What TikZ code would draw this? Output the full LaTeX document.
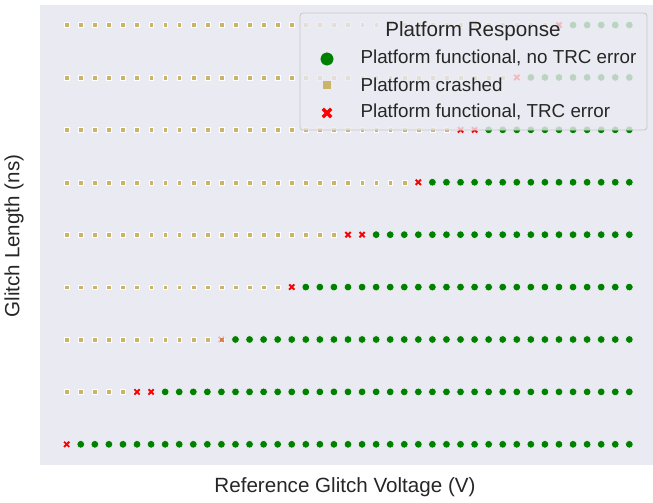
\documentclass[tikz,border=0pt]{standalone}
\usepackage{fontspec}
\setmainfont{Liberation Sans}

\definecolor{plotbg}{HTML}{EAEAF2}
\definecolor{okgreen}{HTML}{008000}
\definecolor{crashtan}{HTML}{C9B468}
\definecolor{trcred}{HTML}{FF0000}

\tikzset{
  okdot/.style={fill=okgreen, draw=white, line width=0.4pt},
  crashsq/.style={fill=crashtan, draw=white, line width=0.3pt},
  lbl/.style={font=\fontsize{18.8}{21}\selectfont, text=black!85},
  biglbl/.style={font=\fontsize{20.6}{23}\selectfont, text=black!85},
  trcmark/.pic={\draw[trcred, line width=1.9pt] (-2.6pt,-2.6pt) -- (2.6pt,2.6pt) (-2.6pt,2.6pt) -- (2.6pt,-2.6pt);},
  trcmarkbig/.pic={\draw[trcred, line width=3.2pt] (-4.2pt,-4.2pt) -- (4.2pt,4.2pt) (-4.2pt,4.2pt) -- (4.2pt,-4.2pt);}
}

\begin{document}
\begin{tikzpicture}[x=1pt, y=-1pt]
\useasboundingbox (0,0) rectangle (653,503);

% Plotfläche
\fill[plotbg] (40,5) rectangle (653,465);

% Messpunkte: Zeile / erstes X / letztes X
\foreach \r/\a/\b in {0/0/0, 1/5/6, 2/12/11, 3/16/16, 4/20/21, 5/25/25, 6/28/29, 7/32/32, 8/35/35}{
  \foreach \c in {0,...,40}{
    \pgfmathsetmacro\px{66.7+14.065*\c}
    \pgfmathsetmacro\py{444.3-52.41*\r}
    \ifnum\c<\a
      \filldraw[crashsq] (\px-2.4,\py-2.4) rectangle (\px+2.4,\py+2.4);
    \else\ifnum\c>\b
      \filldraw[okdot] (\px,\py) circle (3.8pt);
    \else
      \pic at (\px,\py) {trcmark};
    \fi\fi
  }
}
% schwaches X unter dem Quadrat
\pic[opacity=0.3] at (221.4,339.5) {trcmark};

% Legende
\draw[gray!45, fill=plotbg, fill opacity=0.8, rounded corners=3pt, line width=0.8pt] (300,13) rectangle (647,130);
\node[biglbl] (legtitle) at (473,31) {Platform Response};
\filldraw[okgreen] (327,59) circle (6.2pt);
\node[lbl, anchor=west] (legok) at (357,58) {Platform functional, no TRC error};
\fill[crashtan] (323,81) rectangle (331,89);
\node[lbl, anchor=west] (legcrash) at (357,85) {Platform crashed};
\pic at (327,113) {trcmarkbig};
\node[lbl, anchor=west] (legtrc) at (357,112) {Platform functional, TRC error};

% Achsenbeschriftungen
\node[biglbl, rotate=90] (ylabel) at (14,236) {Glitch Length (ns)};
\node[biglbl] (xlabel) at (345,487) {Reference Glitch Voltage (V)};
\end{tikzpicture}
\end{document}
